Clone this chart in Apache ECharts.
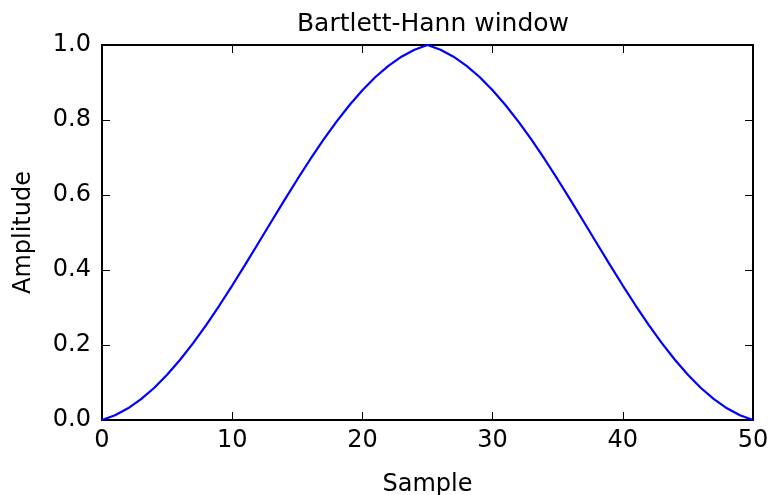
<!DOCTYPE html>
<html>
<head>
<meta charset="utf-8">
<script src="https://cdn.jsdelivr.net/npm/echarts@6/dist/echarts.min.js"></script>
<style>html,body{margin:0;padding:0;background:#fff}#c{width:772px;height:495px}</style>
</head>
<body>
<div id="c"></div>
<script>
const samples = [0,1,2,3,4,5,6,7,8,9,10,11,12,13,14,15,16,17,18,19,20,21,22,23,24,25,26,27,28,29,30,31,32,33,34,35,36,37,38,39,40,41,42,43,44,45,46,47,48,49,50];
const amplitude = [0.0,0.012596,0.031138,0.055485,0.085403,0.120574,0.160592,0.204979,0.253186,0.304604,0.358574,0.414395,0.471339,0.528661,0.585605,0.641426,0.695396,0.746814,0.795021,0.839408,0.879426,0.914597,0.944515,0.968862,0.987404,1.0,0.987404,0.968862,0.944515,0.914597,0.879426,0.839408,0.795021,0.746814,0.695396,0.641426,0.585605,0.528661,0.471339,0.414395,0.358574,0.304604,0.253186,0.204979,0.160592,0.120574,0.085403,0.055485,0.031138,0.012596,0.0];
const xTicks = [0,10,20,30,40,50];
const yTicks = ['0.0','0.2','0.4','0.6','0.8','1.0'];
const titleText = 'Bartlett-Hann window';
const xName = 'Sample';
const yName = 'Amplitude';

const font = 'DejaVu Sans';
const chart = echarts.init(document.getElementById('c'), null, {renderer:'canvas'});
const axisLine = {show:true, onZero:false, lineStyle:{color:'#000', width:2}};
const tickIn = {show:true, inside:true, length:8, lineStyle:{color:'#000', width:1}};
chart.setOption({
  animation:false,
  backgroundColor:'#fff',
  title:{text:titleText, top:7, left:428, textAlign:'center', textStyle:{fontFamily:font, fontSize:25, fontWeight:'normal', color:'#000'}},
  grid:{left:102, right:19, top:45, bottom:75, containLabel:false, outerBoundsMode:'none'},
  xAxis:[
    {type:'value', min:xTicks[0], max:xTicks[xTicks.length-1], interval:10, position:'bottom',
     name:xName, nameLocation:'middle', nameGap:53, nameTextStyle:{fontFamily:font, fontSize:24, color:'#000'},
     axisLine:axisLine, axisTick:tickIn, splitLine:{show:false},
     axisLabel:{fontFamily:font, fontSize:24, color:'#000', margin:9}},
    {type:'value', min:0, max:50, interval:10, position:'top',
     axisLine:axisLine, axisTick:tickIn, splitLine:{show:false}, axisLabel:{show:false}}
  ],
  yAxis:[
    {type:'value', min:0, max:1, interval:0.2, position:'left',
     name:yName, nameLocation:'middle', nameGap:66, nameTextStyle:{fontFamily:font, fontSize:24, color:'#000'},
     axisLine:axisLine, axisTick:tickIn, splitLine:{show:false},
     axisLabel:{fontFamily:font, fontSize:24, color:'#000', margin:11, formatter:(v)=>yTicks[Math.round(v/0.2)]}},
    {type:'value', min:0, max:1, interval:0.2, position:'right',
     axisLine:axisLine, axisTick:tickIn, splitLine:{show:false}, axisLabel:{show:false}}
  ],
  series:[
    {type:'line', data:samples.map((s,i)=>[s, amplitude[i]]), showSymbol:false, symbol:'none',
     lineStyle:{color:'#0000ff', width:2.2}, xAxisIndex:0, yAxisIndex:0, clip:false, z:3},
    {type:'line', data:[], xAxisIndex:1, yAxisIndex:1, symbol:'none', silent:true}
  ]
});
</script>
</body>
</html>
